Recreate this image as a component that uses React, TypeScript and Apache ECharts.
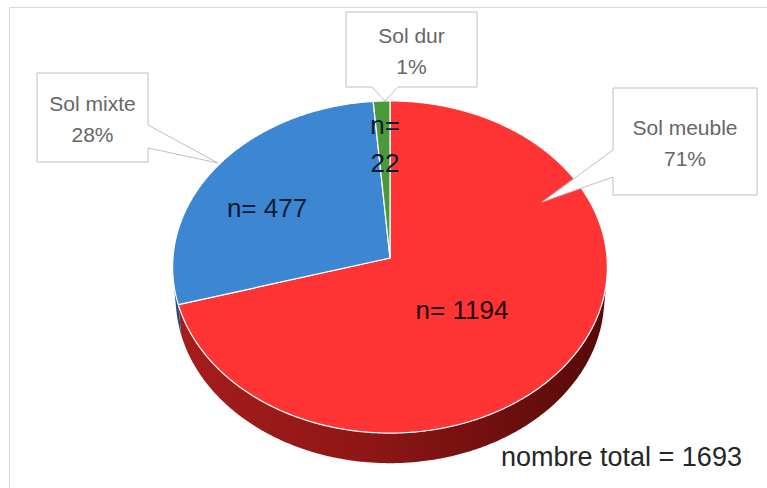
import React, { useEffect, useRef } from 'react';
import * as echarts from 'echarts';

const categories: string[] = ['Sol meuble', 'Sol mixte', 'Sol dur'];
const counts: number[] = [1194, 477, 22];
const topColors: string[] = ['#ff3434', '#3d86d2', '#4a9a3c'];
const sideColors: string[] = ['#8c1515', '#1f4f80', '#2a5a20'];

// perspective view of the 3D pie
const CX = 390, CY = 258, F = 2587, D = 11.92, SIN_E = 0.763, COS_E = 0.647, DEPTH = 0.2234;
const FONT = "'Liberation Sans', Arial, sans-serif";

function project(theta: number, r: number, y: number): [number, number] {
  const t = (theta * Math.PI) / 180;
  const X = r * Math.sin(t);
  const Z = -r * Math.cos(t);
  const d = D - y * SIN_E - Z * COS_E;
  const v = y * COS_E - Z * SIN_E;
  return [CX + (F * X) / d, CY - (F * v) / d];
}

function arcPoints(a: number, b: number, y: number): [number, number][] {
  const pts: [number, number][] = [];
  const n = Math.max(2, Math.ceil(Math.abs(b - a) / 0.5));
  for (let i = 0; i <= n; i++) pts.push(project(a + ((b - a) * i) / n, 1, y));
  return pts;
}

function toPath(pts: [number, number][]): string {
  return pts.map((p, i) => (i === 0 ? 'M' : 'L') + p[0].toFixed(2) + ' ' + p[1].toFixed(2)).join(' ') + ' Z';
}

const total = counts.reduce((s, v) => s + v, 0);
const startAngles: number[] = [];
const endAngles: number[] = [];
{
  let acc = 0;
  counts.forEach((v) => {
    startAngles.push((acc / total) * 360);
    acc += v;
    endAngles.push((acc / total) * 360);
  });
}
const visLimit = (Math.acos(-1 / (D * COS_E)) * 180) / Math.PI;

// annotation anchors (label positions, callout boxes)
const innerLabelPos: [number, number][] = [[462, 310], [267, 208], [385, 144]];
const calloutBoxes = [
  { box: [613, 88, 757, 195], wedge: [[613, 177], [542, 202], [613, 150]], side: 'left' },
  { box: [37, 73, 148, 162], wedge: [[148, 125], [218, 163], [148, 148]], side: 'right' },
  { box: [346, 12, 477, 87], wedge: [[398, 87], [385, 101], [372, 87]], side: 'bottom' },
];

function calloutPoints(c: any): number[][] {
  const [x1, y1, x2, y2] = c.box;
  if (c.side === 'left') return [[x1, y1], [x2, y1], [x2, y2], [x1, y2], ...c.wedge];
  if (c.side === 'right') return [[x1, y1], [x2, y1], ...c.wedge, [x2, y2], [x1, y2]];
  return [[x1, y1], [x2, y1], [x2, y2], ...c.wedge, [x1, y2]];
}

export default function App() {
  const ref = useRef<HTMLDivElement>(null);
  useEffect(() => {
    if (!ref.current) return;
    const chart = echarts.init(ref.current, null, { renderer: 'svg' });
    const data = counts.map((v, i) => ({ value: v, name: categories[i] }));

    const graphics: any[] = [
      {
        type: 'rect', z: 0, silent: true,
        shape: { x: 9.5, y: 7.5, width: 800, height: 520 },
        style: { fill: 'none', stroke: '#d9d9d9', lineWidth: 1 },
      },
    ];
    calloutBoxes.forEach((c, i) => {
      graphics.push({
        type: 'polygon', z: 50, silent: true,
        shape: { points: calloutPoints(c) },
        style: { fill: '#ffffff', stroke: '#bfbfbf', lineWidth: 1 },
      });
      const cx = (c.box[0] + c.box[2]) / 2;
      const cy = (c.box[1] + c.box[3]) / 2;
      graphics.push({
        type: 'text', z: 60, silent: true,
        style: {
          text: categories[i] + '\n' + Math.round((counts[i] / total) * 100) + '%',
          x: cx, y: cy + 1, align: 'center', verticalAlign: 'middle',
          font: `21px ${FONT}`, lineHeight: 31, fill: '#666666',
        },
      });
    });
    innerLabelPos.forEach((p, i) => {
      graphics.push({
        type: 'text', z: 60, silent: true,
        style: {
          text: i === 2 ? 'n=\n' + counts[i] : 'n= ' + counts[i],
          x: p[0], y: p[1], align: 'center', verticalAlign: 'middle',
          font: `26px ${FONT}`, lineHeight: 38,
          fill: i === 0 ? '#240606' : '#0c1a36',
        },
      });
    });
    graphics.push({
      type: 'text', z: 60, silent: true,
      style: {
        text: 'nombre total = ' + total,
        x: 501, y: 457, align: 'left', verticalAlign: 'middle',
        font: `27px ${FONT}`, fill: '#262626',
      },
    });

    chart.setOption({
      animation: false,
      backgroundColor: '#ffffff',
      series: [
        {
          type: 'custom', coordinateSystem: 'none', z: 2, silent: true,
          data,
          renderItem: (params: any) => {
            const i = params.dataIndex;
            const a = Math.max(startAngles[i], visLimit);
            const b = Math.min(endAngles[i], 360 - visLimit);
            if (a >= b) return { type: 'group', children: [] };
            const pts = [...arcPoints(a, b, 0), ...arcPoints(b, a, -DEPTH)];
            const fill = i === 0
              ? new echarts.graphic.LinearGradient(0, 0, 1, 0, [
                  { offset: 0, color: '#a51d1d' },
                  { offset: 0.45, color: '#8e1616' },
                  { offset: 1, color: '#560909' },
                ])
              : sideColors[i];
            return {
              type: 'path',
              shape: { pathData: toPath(pts) },
              style: { fill, stroke: 'none' },
            };
          },
        },
        {
          type: 'custom', coordinateSystem: 'none', z: 3, silent: true,
          data,
          renderItem: (params: any) => {
            const i = params.dataIndex;
            const pts = [project(0, 0, 0), ...arcPoints(startAngles[i], endAngles[i], 0)];
            return {
              type: 'path',
              shape: { pathData: toPath(pts) },
              style: { fill: topColors[i], stroke: '#ffffff', lineWidth: 1.2, lineJoin: 'round' },
            };
          },
        },
      ],
      graphic: { elements: graphics },
    });
    return () => chart.dispose();
  }, []);
  return (
    <div
      ref={ref}
      style={{ position: 'fixed', left: 0, top: 0, width: 767, height: 488 }}
    />
  );
}
